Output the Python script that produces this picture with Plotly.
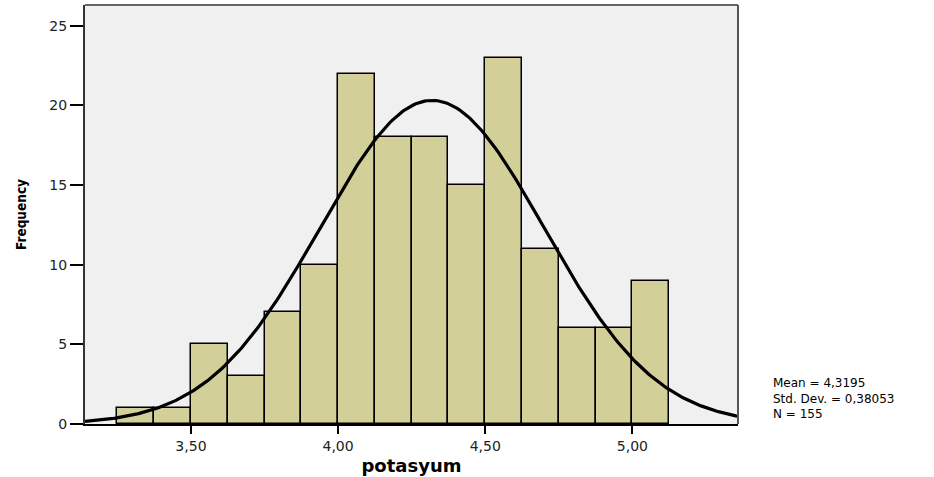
import math
import plotly.graph_objects as go

# Histogram of potasyum: bin left edges (width 0.125) and counts
bin_starts = [3.25, 3.375, 3.5, 3.625, 3.75, 3.875, 4.0, 4.125, 4.25, 4.375,
              4.5, 4.625, 4.75, 4.875, 5.0]
counts = [1, 1, 5, 3, 7, 10, 22, 18, 18, 15, 23, 11, 6, 6, 9]
bin_width = 0.125

# Summary statistics shown beside the chart
mean = 4.3195
std_dev = 0.38053
n_total = 155
stats_lines = ["Mean = 4,3195", "Std. Dev. = 0,38053", "N = 155"]

x_tick_vals = [3.5, 4.0, 4.5, 5.0]
x_tick_text = ["3,50", "4,00", "4,50", "5,00"]
y_tick_vals = [0, 5, 10, 15, 20, 25]

x_range = [3.14, 5.359]
y_range = [0, 26.3]

centers = [s + bin_width / 2 for s in bin_starts]

# Fitted normal curve scaled to counts per bin
steps = 300
curve_x = [x_range[0] + (x_range[1] - x_range[0]) * i / steps for i in range(steps + 1)]
scale = n_total * bin_width / (std_dev * math.sqrt(2 * math.pi))
curve_y = [scale * math.exp(-0.5 * ((x - mean) / std_dev) ** 2) for x in curve_x]

fig = go.Figure()
fig.add_trace(go.Bar(
    x=centers, y=counts, width=[bin_width] * len(counts),
    marker=dict(color="#d3cf99", line=dict(color="black", width=1.5)),
    hoverinfo="x+y", showlegend=False,
))
fig.add_trace(go.Scatter(
    x=curve_x, y=curve_y, mode="lines",
    line=dict(color="black", width=3.2), showlegend=False,
))

wide_font = "DejaVu Sans, Verdana, sans-serif"

fig.update_layout(
    width=934, height=477,
    margin=dict(l=85, r=196, t=5, b=53),
    paper_bgcolor="white", plot_bgcolor="#f0f0f0",
    font=dict(family=wide_font, color="black", size=13),
    bargap=0,
    xaxis=dict(
        range=x_range, tickmode="array", tickvals=x_tick_vals, ticktext=x_tick_text,
        ticks="outside", ticklen=8, tickwidth=2, tickcolor="black",
        showgrid=False, zeroline=False, showline=True, linecolor="black", linewidth=2,
        tickfont=dict(size=14, family=wide_font, color="#222222"),
        title=dict(text="<b>potasyum</b>", font=dict(size=18, family=wide_font), standoff=7),
    ),
    yaxis=dict(
        range=y_range, tickmode="array", tickvals=y_tick_vals,
        ticks="outside", ticklen=13, tickwidth=2, tickcolor="black",
        showgrid=False, zeroline=False, showline=True, linecolor="#333333", linewidth=2,
        tickfont=dict(size=14, family=wide_font, color="#222222"),
        title=dict(text="<b>Frequency</b>",
                   font=dict(size=13.5, family="DejaVu Sans Condensed, Liberation Sans, Arial, sans-serif"),
                   standoff=20),
    ),
)

# Top and right frame edges
fig.add_shape(type="line", xref="paper", yref="paper", x0=0, x1=1, y0=1, y1=1,
              line=dict(color="#666666", width=2))
fig.add_shape(type="line", xref="paper", yref="paper", x0=1, x1=1, y0=0, y1=1,
              line=dict(color="#555555", width=2))

# Statistics block beside the plot
fig.add_annotation(
    xref="paper", yref="paper", x=1.0505, y=0.062,
    xanchor="left", yanchor="middle", align="left", showarrow=False,
    text="<br>".join(stats_lines), font=dict(size=12, family=wide_font, color="black"),
)

fig.write_html("out.html")
